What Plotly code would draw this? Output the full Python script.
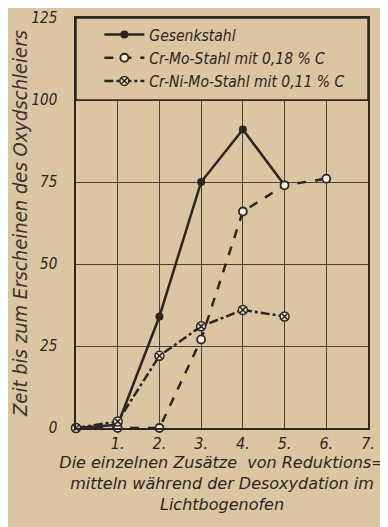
import plotly.graph_objects as go

x_steps = [0, 1, 2, 3, 4, 5, 6]
tick_vals = [1, 2, 3, 4, 5, 6, 7]
tick_text = ["1.", "2.", "3.", "4.", "5.", "6.", "7."]
y_ticks = [0, 25, 50, 75, 100, 125]

gesenk_x = [0, 1, 2, 3, 4, 5]
gesenk_y = [0, 1, 34, 75, 91, 74]

crmo_x = [0, 1, 2, 3, 4, 5, 6]
crmo_y = [0, 0, 0, 27, 66, 74, 76]

crnimo_x = [0, 1, 2, 3, 4, 5]
crnimo_y = [0, 2, 22, 31, 36, 34]

names = ["Gesenkstahl", "Cr-Mo-Stahl mit 0,18 % C", "Cr-Ni-Mo-Stahl mit 0,11 % C"]

BG = "#dbc5a2"
INK = "#2b2621"
FONT = "DejaVu Sans Condensed"

fig = go.Figure()
fig.add_trace(go.Scatter(
    x=gesenk_x, y=gesenk_y, name=names[0], mode="lines+markers",
    line=dict(color=INK, width=2.5),
    marker=dict(symbol="circle", size=8, color=INK),
    cliponaxis=False))
fig.add_trace(go.Scatter(
    x=crmo_x, y=crmo_y, name=names[1], mode="lines+markers",
    line=dict(color=INK, width=2.5, dash="dash"),
    marker=dict(symbol="circle", size=8, color="#f4efe4", line=dict(color=INK, width=1.8)),
    cliponaxis=False))
fig.add_trace(go.Scatter(
    x=crnimo_x, y=crnimo_y, name=names[2], mode="lines+markers",
    line=dict(color=INK, width=2.5, dash="dashdot"),
    marker=dict(symbol="circle-x", size=9, color="#e8dcc4", line=dict(color=INK, width=1.5)),
    cliponaxis=False))

fig.add_shape(type="rect", xref="x", yref="y", x0=0, x1=7, y0=100, y1=125,
              fillcolor=BG, line=dict(color=INK, width=1.5), layer="between")

fig.update_layout(
    width=388, height=527,
    margin=dict(l=68, r=28, t=10, b=107),
    paper_bgcolor=BG, plot_bgcolor=BG,
    font=dict(family=FONT, color=INK, size=15, style="italic"),
    showlegend=True,
    legend=dict(x=0.08, y=1.0, xanchor="left", yanchor="top",
                bgcolor="rgba(0,0,0,0)", borderwidth=0,
                font=dict(family=FONT, size=15.5, color=INK, style="italic"),
                itemwidth=40, tracegroupgap=0),
    xaxis=dict(range=[0, 7], tickvals=tick_vals, ticktext=tick_text,
               showgrid=True, gridcolor="#4a4038", gridwidth=1,
               showline=True, linecolor=INK, linewidth=1.5, mirror=True,
               ticks="", zeroline=False, automargin=False,
               tickfont=dict(family=FONT, size=16, style="italic"),
               title=dict(text="Die einzelnen Zusätze  von Reduktions=<br>mitteln während der Desoxydation im<br>Lichtbogenofen",
                          font=dict(family="DejaVu Sans", size=16, style="italic"), standoff=3)),
    yaxis=dict(range=[0, 125], tickvals=y_ticks,
               showgrid=True, gridcolor="#4a4038", gridwidth=1,
               showline=True, linecolor=INK, linewidth=1.5, mirror=True,
               ticks="", zeroline=False, ticklabelstandoff=14, automargin=False,
               ticklabeloverflow="allow",
               tickfont=dict(family=FONT, size=15, style="italic"),
               title=dict(text="Zeit bis zum Erscheinen des Oxydschleiers",
                          font=dict(family=FONT, size=20, style="italic", color="#3a332c"), standoff=9)),
)

fig.write_html("out.html")
